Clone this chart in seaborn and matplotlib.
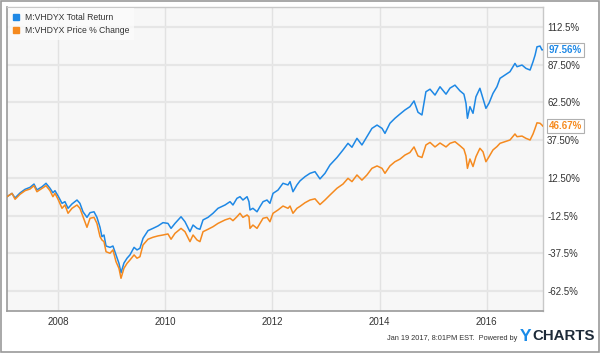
import matplotlib
matplotlib.use("Agg")
import matplotlib.pyplot as plt
import seaborn as sns
import pandas as pd
from matplotlib.patches import Rectangle
from matplotlib.lines import Line2D

dates = [
    "2007-01-19", "2007-02-22", "2007-03-15", "2007-04-18", "2007-05-22", "2007-06-25",
    "2007-07-22", "2007-08-11", "2007-09-15", "2007-10-12", "2007-11-08", "2007-11-28",
    "2007-12-12", "2008-01-02", "2008-01-29", "2008-02-18", "2008-03-10", "2008-04-06",
    "2008-05-10", "2008-05-30", "2008-06-20", "2008-07-17", "2008-08-07", "2008-09-03",
    "2008-09-23", "2008-10-14", "2008-10-27", "2008-11-10", "2008-11-24", "2008-12-21",
    "2009-01-10", "2009-01-31", "2009-02-20", "2009-03-06", "2009-03-26", "2009-04-16",
    "2009-05-06", "2009-06-03", "2009-06-23", "2009-07-13", "2009-08-03", "2009-09-06",
    "2009-10-10", "2009-11-13", "2009-12-17", "2010-01-20", "2010-02-10", "2010-03-09",
    "2010-04-19", "2010-05-16", "2010-06-19", "2010-07-10", "2010-08-06", "2010-08-26",
    "2010-09-16", "2010-10-20", "2010-11-23", "2010-12-27", "2011-02-13", "2011-03-19",
    "2011-04-08", "2011-05-05", "2011-05-26", "2011-06-15", "2011-07-13", "2011-07-26",
    "2011-08-02", "2011-08-22", "2011-09-19", "2011-10-09", "2011-10-30", "2011-11-26",
    "2011-12-16", "2012-01-06", "2012-02-09", "2012-03-14", "2012-04-17", "2012-05-01",
    "2012-05-21", "2012-06-17", "2012-07-08", "2012-08-11", "2012-09-14", "2012-10-18",
    "2012-11-21", "2012-12-25", "2013-01-28", "2013-03-17", "2013-04-27", "2013-05-31",
    "2013-06-27", "2013-07-31", "2013-09-03", "2013-10-07", "2013-11-10", "2013-12-15",
    "2014-01-18", "2014-02-07", "2014-03-13", "2014-04-16", "2014-05-20", "2014-06-23",
    "2014-07-27", "2014-08-24", "2014-09-20", "2014-10-17", "2014-11-13", "2014-12-11",
    "2015-01-14", "2015-02-17", "2015-03-30", "2015-04-26", "2015-05-30", "2015-07-03",
    "2015-07-30", "2015-08-13", "2015-08-23", "2015-09-09", "2015-09-30", "2015-10-20",
    "2015-11-16", "2015-12-07", "2015-12-27", "2016-01-17", "2016-02-13", "2016-03-11",
    "2016-04-01", "2016-05-05", "2016-06-08", "2016-07-12", "2016-07-26", "2016-08-29",
    "2016-09-25", "2016-10-23", "2016-11-12", "2016-11-26", "2016-12-09", "2016-12-30",
    "2017-01-12", "2017-01-19",
]

total_return = [
    0.0, 2.2, -0.8, 2.5, 4.9, 6.2,
    8.4, 4.5, 6.6, 8.9, 5.6, 2.6,
    4.0, 0.5, -4.4, -3.3, -7.7, -4.8,
    -2.2, -4.4, -10.0, -13.7, -10.6, -10.0,
    -13.7, -20.3, -26.5, -25.4, -32.7, -33.6,
    -32.7, -38.6, -44.2, -50.5, -44.0, -40.8,
    -38.6, -33.6, -35.3, -34.2, -27.6, -22.5,
    -21.0, -19.4, -17.2, -17.7, -21.0, -17.7,
    -13.3, -16.6, -23.2, -18.8, -21.0, -21.6,
    -15.4, -13.7, -11.0, -7.7, -5.5, -3.3,
    -5.5, -1.1, 0.0, -2.2, 0.0, -3.3,
    -8.8, -7.7, -10.0, -6.6, -3.3, -2.2,
    -4.4, 2.2, 4.4, 8.9, 7.8, 10.0,
    3.3, 7.8, 10.5, 13.3, 15.5, 16.6,
    11.8, 15.5, 21.0, 26.0, 31.0, 35.4,
    32.8, 38.7, 34.3, 39.8, 45.3, 47.5,
    45.3, 42.0, 48.7, 52.0, 54.8, 57.5,
    59.7, 63.5, 56.0, 54.2, 69.6, 71.3,
    67.4, 72.9, 68.0, 72.0, 74.0, 70.2,
    68.0, 62.0, 52.0, 59.7, 55.3, 66.3,
    71.9, 65.2, 58.6, 62.0, 68.5, 72.9,
    78.5, 80.7, 82.9, 88.4, 86.2, 87.3,
    85.1, 84.0, 89.5, 93.9, 99.4, 99.9,
    97.3, 97.56,
]

price_change = [
    0.0, 2.2, -1.7, 1.6, 4.0, 5.1,
    7.3, 3.3, 5.6, 7.3, 4.0, 0.0,
    2.2, -1.7, -7.7, -5.5, -11.0, -7.7,
    -5.5, -7.7, -13.3, -20.3, -14.3, -13.7,
    -17.7, -26.5, -28.7, -29.8, -36.5, -37.5,
    -35.3, -43.1, -47.5, -54.1, -47.5, -44.2,
    -42.0, -38.6, -40.8, -39.8, -32.0, -28.2,
    -26.9, -26.0, -25.4, -24.7, -28.2, -24.3,
    -21.0, -23.2, -29.8, -25.4, -28.7, -29.8,
    -23.2, -21.6, -19.9, -17.7, -15.4, -14.3,
    -15.9, -13.3, -11.0, -13.7, -12.1, -13.3,
    -21.0, -18.8, -21.0, -17.7, -14.3, -13.7,
    -16.6, -11.0, -8.8, -6.2, -7.7, -6.2,
    -11.0, -7.7, -6.4, -4.0, -2.2, -1.4,
    -5.2, -2.2, 1.1, 5.6, 8.4, 12.2,
    10.0, 14.4, 11.0, 14.4, 18.8, 20.4,
    18.8, 15.5, 20.4, 23.2, 24.9, 27.6,
    29.3, 33.0, 27.0, 26.0, 34.3, 36.0,
    33.0, 35.6, 33.0, 35.4, 36.5, 33.8,
    31.5, 27.0, 18.8, 25.0, 20.0, 26.5,
    32.1, 29.8, 23.2, 26.5, 31.0, 33.2,
    35.4, 36.5, 37.6, 41.6, 39.8, 40.2,
    38.7, 37.6, 41.6, 45.3, 49.0, 48.7,
    47.5, 46.67,
]

series_names = ["M:VHDYX Total Return", "M:VHDYX Price % Change"]
series_colors = ["#1e88e5", "#f58a1f"]
ytick_values = [112.5, 87.5, 62.5, 37.5, 12.5, -12.5, -37.5, -62.5]
ytick_labels = ["112.5%", "87.50%", "62.50%", "37.50%", "12.50%", "-12.5%", "-37.5%", "-62.5%"]
xtick_dates = ["2008-01-01", "2010-01-01", "2012-01-01", "2014-01-01", "2016-01-01"]
xtick_labels = ["2008", "2010", "2012", "2014", "2016"]
end_labels = ["97.56%", "46.67%"]
footer_text = "Jan 19 2017, 8:01PM EST.  Powered by"

df = pd.DataFrame({
    "date": pd.to_datetime(dates * 2),
    "value": total_return + price_change,
    "series": [series_names[0]] * len(dates) + [series_names[1]] * len(dates),
})

sns.set_style("white")
plt.rcParams["font.family"] = ["Liberation Sans", "DejaVu Sans"]

fig = plt.figure(figsize=(6.0, 3.53), dpi=100)
ax = fig.add_axes([7 / 600, 1 - 311 / 353, 536 / 600, 304 / 353])
ax.set_facecolor("#f7f7f7")

sns.lineplot(data=df, x="date", y="value", hue="series", palette=series_colors,
             hue_order=series_names, linewidth=1.1, legend=False, ax=ax, zorder=3)

ax.set_xlim(pd.Timestamp("2007-01-19"), pd.Timestamp("2017-01-19"))
ax.set_ylim(-75.8, 125.8)

ax.set_yticks(ytick_values)
ax.set_yticklabels(ytick_labels)
ax.yaxis.tick_right()
ax.set_xticks(pd.to_datetime(xtick_dates))
ax.set_xticklabels(xtick_labels)
ax.tick_params(axis="both", length=0, labelsize=7, colors="#333333")
ax.tick_params(axis="y", pad=3)
ax.tick_params(axis="x", pad=4)
ax.set_xlabel("")
ax.set_ylabel("")

ax.grid(True, axis="y", color="#e6e6e6", linewidth=1.6, zorder=0)
ax.grid(True, axis="x", color="#e2e2e2", linewidth=1.0, zorder=0)
ax.set_axisbelow(True)

for side in ["left", "bottom"]:
    ax.spines[side].set_color("#9a9a9a")
    ax.spines[side].set_linewidth(1.2)
for side in ["top", "right"]:
    ax.spines[side].set_color("#c8c8c8")
    ax.spines[side].set_linewidth(1.0)

# legend
handles = [Line2D([0], [0], marker="s", linestyle="none", markersize=4.3,
                  markerfacecolor=c, markeredgecolor=c) for c in series_colors]
leg = ax.legend(handles, series_names, loc="upper left", bbox_to_anchor=(0.0, 1.0),
                fontsize=6.2, frameon=True, handlelength=0.8, handletextpad=0.6,
                borderpad=0.55, labelspacing=0.45, borderaxespad=0.15)
leg.get_frame().set_facecolor("#fbfbfb")
leg.get_frame().set_edgecolor("none")
leg.get_frame().set_boxstyle("square", pad=0)
for t in leg.get_texts():
    t.set_color("#333333")

# end value labels
last_vals = [total_return[-1], price_change[-1]]
for lbl, val, col in zip(end_labels, last_vals, series_colors):
    ax.annotate(lbl, xy=(1.0, val), xycoords=("axes fraction", "data"),
                xytext=(4, 0), textcoords="offset points", ha="left", va="center",
                fontsize=7, fontweight="bold", color=col, zorder=5,
                bbox=dict(boxstyle="square,pad=0.2", fc="white", ec="#b0b0b0", lw=0.8),
                annotation_clip=False)

# footer
fig.text(0.862, 1 - 338 / 353, footer_text, ha="right", va="center",
         fontsize=5.3, color="#333333")
y_txt = fig.text(0.867, 1 - 336.5 / 353, "Y", ha="left", va="center", fontsize=12.5,
                 fontweight="bold", color="#1a8be8")
fig.canvas.draw()
bb = y_txt.get_window_extent(renderer=fig.canvas.get_renderer())
x_after = bb.x1 / fig.bbox.width + 0.001
fig.text(x_after, 1 - 336.5 / 353, "CHARTS", ha="left", va="center", fontsize=10.8,
         fontweight="bold", color="#1d2a38")

# outer border
fig.patches.append(Rectangle((0.001, 0.002), 0.997, 0.996, transform=fig.transFigure,
                             fill=False, edgecolor="#9a9a9a", linewidth=1.2))

fig.savefig("out.png", dpi=100)
